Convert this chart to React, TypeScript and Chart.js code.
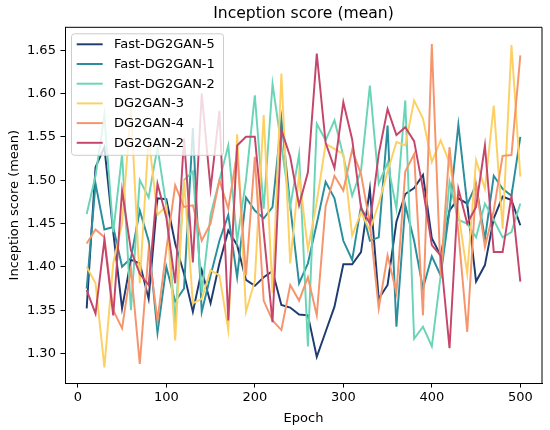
import { useEffect, useRef } from "react";
import { Chart, Plugin, registerables } from "chart.js";

Chart.register(...registerables);

// Epochs on the x axis
const epochs = [
  10, 20, 30, 40, 50, 60, 70, 80, 90, 100, 110, 120, 130, 140, 150, 160, 170,
  180, 190, 200, 210, 220, 230, 240, 250, 260, 270, 280, 290, 300, 310, 320,
  330, 340, 350, 360, 370, 380, 390, 400, 410, 420, 430, 440, 450, 460, 470,
  480, 490, 500,
];

const fastDg2gan5 = [
  1.352, 1.515, 1.538, 1.44, 1.352, 1.408, 1.404, 1.363, 1.479, 1.478, 1.427,
  1.392, 1.348, 1.396, 1.358, 1.404, 1.442, 1.425, 1.385, 1.378, 1.388, 1.395,
  1.356, 1.353, 1.345, 1.344, 1.296, 1.325, 1.354, 1.403, 1.403, 1.417, 1.49,
  1.363, 1.379, 1.452, 1.484, 1.491, 1.506, 1.433, 1.413, 1.465, 1.479, 1.473,
  1.383, 1.402, 1.456, 1.481, 1.477, 1.448,
];
const fastDg2gan1 = [
  1.375, 1.496, 1.443, 1.446, 1.4, 1.41, 1.465, 1.43, 1.324, 1.4, 1.36, 1.375,
  1.56, 1.348, 1.39, 1.43, 1.46, 1.388, 1.48, 1.465, 1.456, 1.469, 1.571, 1.47,
  1.381, 1.404, 1.45, 1.498, 1.479, 1.43, 1.408, 1.47, 1.43, 1.434, 1.563,
  1.331, 1.471, 1.43, 1.375, 1.412, 1.39, 1.465, 1.564, 1.472, 1.495, 1.432,
  1.505, 1.49, 1.482, 1.55,
];
const fastDg2gan2 = [
  1.461, 1.505, 1.575, 1.44, 1.53, 1.35, 1.5, 1.48, 1.538, 1.47, 1.335, 1.5,
  1.51, 1.37, 1.46, 1.5, 1.54, 1.43, 1.5, 1.598, 1.467, 1.611, 1.54, 1.469,
  1.53, 1.308, 1.565, 1.546, 1.569, 1.528, 1.482, 1.511, 1.609, 1.496, 1.52,
  1.467, 1.592, 1.317, 1.331, 1.308, 1.39, 1.498, 1.454, 1.45, 1.434, 1.473,
  1.454, 1.434, 1.44, 1.473,
];
const dg2gan3 = [
  1.4, 1.381, 1.284, 1.404, 1.45, 1.585, 1.381, 1.55, 1.46, 1.47, 1.315, 1.5,
  1.358, 1.363, 1.396, 1.39, 1.327, 1.553, 1.348, 1.384, 1.575, 1.37, 1.623,
  1.404, 1.507, 1.42, 1.475, 1.542, 1.536, 1.53, 1.436, 1.463, 1.442, 1.473,
  1.51, 1.544, 1.54, 1.592, 1.571, 1.521, 1.546, 1.52, 1.463, 1.392, 1.523,
  1.49, 1.586, 1.444, 1.656, 1.504,
];
const dg2gan4 = [
  1.427, 1.443, 1.434, 1.35, 1.329, 1.398, 1.288, 1.419, 1.338, 1.42, 1.494,
  1.469, 1.471, 1.43, 1.45, 1.5, 1.467, 1.532, 1.39, 1.527, 1.361, 1.338,
  1.327, 1.379, 1.361, 1.388, 1.344, 1.47, 1.505, 1.488, 1.535, 1.507, 1.45,
  1.352, 1.413, 1.37, 1.51, 1.53, 1.344, 1.657, 1.39, 1.538, 1.44, 1.325,
  1.494, 1.423, 1.465, 1.528, 1.529, 1.644,
];
const dg2gan2 = [
  1.373, 1.346, 1.431, 1.344, 1.488, 1.419, 1.392, 1.379, 1.496, 1.457, 1.381,
  1.548, 1.405, 1.6, 1.49, 1.58, 1.338, 1.54, 1.55, 1.55, 1.44, 1.336, 1.558,
  1.527, 1.471, 1.509, 1.646, 1.543, 1.514, 1.59, 1.547, 1.468, 1.45, 1.53,
  1.582, 1.552, 1.561, 1.545, 1.49, 1.425, 1.413, 1.306, 1.49, 1.45, 1.469,
  1.54, 1.417, 1.417, 1.482, 1.383,
];

const seriesLabels = [
  "Fast-DG2GAN-5",
  "Fast-DG2GAN-1",
  "Fast-DG2GAN-2",
  "DG2GAN-3",
  "DG2GAN-4",
  "DG2GAN-2",
];
const seriesValues = [fastDg2gan5, fastDg2gan1, fastDg2gan2, dg2gan3, dg2gan4, dg2gan2];
const seriesColors = ["#1f3b6f", "#2a8e9c", "#6ad4b6", "#fdd063", "#f6946b", "#c4466b"];

const xTicks = [0, 100, 200, 300, 400, 500];
const yTicks = [1.3, 1.35, 1.4, 1.45, 1.5, 1.55, 1.6, 1.65];

const FONT = "'DejaVu Sans', sans-serif";

// Title, top/right spines and the framed legend inside the axes
const decorations: Plugin<"line"> = {
  id: "decorations",
  afterDatasetsDraw(chart) {
    const { ctx, chartArea: a } = chart;
    ctx.save();
    ctx.strokeStyle = "#000";
    ctx.lineWidth = 1;
    ctx.beginPath();
    ctx.moveTo(a.left, a.top);
    ctx.lineTo(a.right, a.top);
    ctx.lineTo(a.right, a.bottom);
    ctx.stroke();

    // legend box
    const lx = 71.5, ly = 33.8, lw = 152, lh = 121.5;
    ctx.beginPath();
    if (ctx.roundRect) ctx.roundRect(lx, ly, lw, lh, 3);
    else ctx.rect(lx, ly, lw, lh);
    ctx.fillStyle = "rgba(255,255,255,0.8)";
    ctx.fill();
    ctx.strokeStyle = "#cccccc";
    ctx.lineWidth = 1;
    ctx.stroke();

    ctx.font = `13px ${FONT}`;
    ctx.textBaseline = "middle";
    ctx.textAlign = "left";
    seriesLabels.forEach((label, i) => {
      const y = 44.3 + i * 19.7;
      ctx.strokeStyle = seriesColors[i];
      ctx.lineWidth = 1.95;
      ctx.beginPath();
      ctx.moveTo(76.7, y);
      ctx.lineTo(102.7, y);
      ctx.stroke();
      ctx.fillStyle = "#000";
      ctx.fillText(label, 114, y + 0.5);
    });

    // title
    ctx.font = `15.6px ${FONT}`;
    ctx.textAlign = "center";
    ctx.textBaseline = "alphabetic";
    ctx.fillStyle = "#000";
    ctx.fillText("Inception score (mean)", (a.left + a.right) / 2, 18.3);
    ctx.restore();
  },
};

const App = () => {
  const canvasRef = useRef<HTMLCanvasElement | null>(null);

  useEffect(() => {
    if (!canvasRef.current) return;
    const chart = new Chart(canvasRef.current, {
      type: "line",
      data: {
        datasets: seriesLabels.map((label, i) => ({
          label,
          data: epochs.map((e, j) => ({ x: e, y: seriesValues[i][j] })),
          borderColor: seriesColors[i],
          backgroundColor: seriesColors[i],
          borderWidth: 1.95,
          pointRadius: 0,
          tension: 0,
          order: seriesLabels.length - i, // later series drawn on top
        })),
      },
      options: {
        animation: false,
        responsive: false,
        events: [],
        layout: { padding: { top: 27.3, right: 8, left: 0, bottom: 0 } },
        plugins: {
          legend: { display: false },
          title: { display: false },
          tooltip: { enabled: false },
        },
        scales: {
          x: {
            type: "linear",
            min: -14.5,
            max: 524.5,
            afterBuildTicks: (s) => {
              s.ticks = xTicks.map((value) => ({ value }));
            },
            afterFit: (s) => {
              s.height = 47;
            },
            grid: {
              drawOnChartArea: false,
              drawTicks: true,
              tickLength: 4.55,
              color: "#000",
            },
            border: { display: true, color: "#000", width: 1 },
            ticks: {
              color: "#000",
              font: { family: FONT, size: 13 },
              padding: 2,
              maxRotation: 0,
              callback: (v) => String(v),
            },
            title: {
              display: true,
              text: "Epoch",
              color: "#000",
              font: { family: FONT, size: 13 },
              padding: { top: 0, bottom: 3.5 },
            },
          },
          y: {
            type: "linear",
            min: 1.2659,
            max: 1.6764,
            afterBuildTicks: (s) => {
              s.ticks = yTicks.map((value) => ({ value }));
            },
            afterFit: (s) => {
              s.width = 65;
            },
            grid: {
              drawOnChartArea: false,
              drawTicks: true,
              tickLength: 4.55,
              color: "#000",
            },
            border: { display: true, color: "#000", width: 1 },
            ticks: {
              color: "#000",
              font: { family: FONT, size: 13 },
              padding: 4.55,
              callback: (v) => Number(v).toFixed(2),
            },
            title: {
              display: true,
              text: "Inception score (mean)",
              color: "#000",
              font: { family: FONT, size: 13 },
              padding: { top: 7, bottom: 0 },
            },
          },
        },
      },
      plugins: [decorations],
    });
    return () => chart.destroy();
  }, []);

  return (
    <div style={{ position: "absolute", left: 0, top: 0, width: 550, height: 430, background: "#fff" }}>
      <canvas ref={canvasRef} width={550} height={430} />
    </div>
  );
};

export default App;
